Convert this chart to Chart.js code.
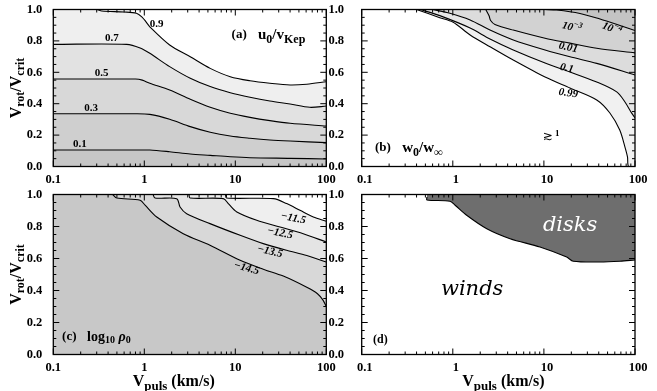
<!DOCTYPE html>
<html>
<head>
<meta charset="utf-8">
<script src="https://cdn.jsdelivr.net/npm/chart.js@4.4.1/dist/chart.umd.min.js"></script>
<style>
  html, body { margin: 0; padding: 0; background: #fff; }
  #wrap { position: relative; width: 657px; height: 391px; }
  #wrap canvas { position: absolute; left: 0; top: 0; }
</style>
</head>
<body>
<div id="wrap">
  <canvas id="pa" width="657" height="391"></canvas>
  <canvas id="pb" width="657" height="391"></canvas>
  <canvas id="pc" width="657" height="391"></canvas>
  <canvas id="pd" width="657" height="391"></canvas>
</div>
<script>
// axis ticks
const xTicks = [0.1, 1, 10, 100];
const yTicks = [0, 0.2, 0.4, 0.6, 0.8, 1.0];

// (a) u0/vKep contours  [vpuls, vrot/vcrit]
const a01 = [[0.1,0.105],[0.8,0.105],[1.15,0.105],[1.9,0.094],[3.2,0.080],[5.3,0.071],[8.8,0.062],[14.5,0.056],[40,0.052],[100,0.048]];
const a03 = [[0.1,0.336],[0.8,0.336],[1.15,0.332],[1.9,0.301],[3.2,0.254],[5.3,0.218],[8.8,0.194],[14.5,0.180],[24,0.169],[40,0.162],[100,0.152]];
const a05 = [[0.1,0.557],[0.8,0.557],[0.95,0.55],[1.15,0.530],[1.9,0.487],[3.2,0.428],[5.3,0.377],[8.8,0.339],[14.5,0.313],[24,0.292],[40,0.275],[100,0.258]];
const a07 = [[0.1,0.778],[0.64,0.778],[0.9,0.755],[1.15,0.721],[1.9,0.636],[3.2,0.562],[5.3,0.509],[8.8,0.470],[14.5,0.441],[24,0.417],[40,0.398],[66,0.377],[100,0.385]];
const a09 = [[0.1,1.0],[0.3,1.0],[0.34,0.99],[0.6,0.984],[0.82,0.976],[0.95,0.95],[1.05,0.92],[1.15,0.89],[1.9,0.774],[3.2,0.699],[5.3,0.625],[8.8,0.572],[14.5,0.546],[24,0.530],[40,0.519],[61,0.524],[100,0.540]];

// (b) w0/winf contours
const b099 = [[0.40,1.0],[0.72,0.948],[1.0,0.92],[1.55,0.838],[2.56,0.763],[4.61,0.678],[10.3,0.570],[19.3,0.500],[38,0.424],[53,0.341],[68,0.232],[77.6,0.124],[82.7,0.061],[85,0.0],[100,0.0]];
const b01 = [[0.44,1.0],[0.72,0.961],[1.55,0.882],[2.56,0.812],[4.61,0.742],[10.3,0.659],[19.3,0.602],[38,0.538],[63,0.475],[77.6,0.411],[92,0.34],[100,0.31]];
const b001 = [[0.6,1.0],[0.93,0.976],[1.55,0.933],[2.56,0.869],[4.61,0.806],[10.3,0.742],[19.3,0.699],[38,0.657],[100,0.583]];
const b1e3 = [[2.3,1.0],[2.5,0.96],[2.6,0.93],[2.9,0.905],[4.6,0.869],[10.3,0.817],[19.3,0.786],[38,0.753],[100,0.724]];
const b1e4 = [[10.3,1.0],[13.8,0.997],[24.9,0.975],[41.3,0.939],[68.4,0.898],[100,0.866]];

// (c) log10 rho0 contours
const c145 = [[0.45,1.0],[0.5,0.978],[0.9,0.964],[1.02,0.933],[1.37,0.859],[2.68,0.755],[5.27,0.683],[11.3,0.589],[20.3,0.533],[33.7,0.49],[61,0.42],[80,0.38],[92,0.34],[100,0.30]];
const c135 = [[1.25,1.0],[1.31,0.978],[2.27,0.974],[2.47,0.922],[2.92,0.880],[5.27,0.818],[11.3,0.745],[20.3,0.693],[36.7,0.651],[61,0.619],[100,0.578]];
const c125 = [[3.1,1.0],[3.18,0.978],[7.38,0.974],[8.38,0.943],[10.4,0.891],[17.2,0.839],[31,0.797],[55.8,0.755],[100,0.703]];
const c115 = [[7.8,1.0],[8.0,0.978],[26.2,0.974],[36.7,0.943],[51.4,0.901],[72,0.859],[100,0.833]];

// (d) disk / wind boundary
const dDisk = [[0.52,0.985],[0.52,0.966],[0.93,0.958],[1.06,0.933],[1.42,0.87],[2.36,0.786],[4.25,0.724],[9.06,0.672],[17.8,0.609],[21,0.583],[41.3,0.578],[68.4,0.583],[100,0.591]];

const FONT = 'Liberation Serif';

function drawRich(ctx, x, y, parts, align, rot, color) {
    ctx.save();
    ctx.translate(x, y);
    if (rot) ctx.rotate(rot * Math.PI / 180);
    ctx.fillStyle = color || '#000';
    ctx.textBaseline = 'middle';
    const fonts = parts.map(p => (p[3] || 'bold') + ' ' + p[1] + 'px ' + (p[4] || FONT));
    let w = 0;
    parts.forEach((p, i) => { ctx.font = fonts[i]; w += ctx.measureText(p[0]).width; });
    let cx = align === 'center' ? -w / 2 : 0;
    parts.forEach((p, i) => {
        ctx.font = fonts[i];
        ctx.fillText(p[0], cx, p[2] || 0);
        cx += ctx.measureText(p[0]).width;
    });
    ctx.restore();
}

// background of plot area, labels, x tick labels and inward ticks
const panelPlugin = {
    id: 'panel',
    beforeDatasetsDraw(chart, args, opts) {
        const a = chart.chartArea;
        chart.ctx.save();
        chart.ctx.fillStyle = opts.base;
        chart.ctx.fillRect(a.left, a.top, a.width, a.height);
        chart.ctx.restore();
    },
    afterDatasetsDraw(chart, args, opts) {
        const ctx = chart.ctx, a = chart.chartArea;
        const sx = chart.scales.x, sy = chart.scales.y;
        (opts.notes || []).forEach(n => {
            drawRich(ctx, sx.getPixelForValue(n.x), sy.getPixelForValue(n.y), n.parts, n.align || 'center', n.rot, n.color);
        });
        if (opts.yTitle) drawRich(ctx, a.left - 36.5, (a.top + a.bottom) / 2, opts.yTitle, 'center', -90);
        if (opts.xTitle) drawRich(ctx, (a.left + a.right) / 2 + opts.xTitleShift, a.bottom + 27.5, opts.xTitle, 'center', 0);

        // x tick labels
        xTicks.forEach(v => {
            drawRich(ctx, sx.getPixelForValue(v) + (opts.xLabShift || 0), a.bottom + 13, [[String(v), 12.5]], 'center', 0);
        });

        ctx.save();
        ctx.strokeStyle = '#000';
        ctx.lineWidth = 1;
        ctx.beginPath();
        const minorX = [];
        [0.1, 1, 10].forEach(d => { for (let k = 2; k <= 9; k++) minorX.push(d * k); });
        const tickX = (v, len) => {
            const p = sx.getPixelForValue(v);
            ctx.moveTo(p, a.bottom); ctx.lineTo(p, a.bottom - len);
            ctx.moveTo(p, a.top); ctx.lineTo(p, a.top + len);
        };
        const tickY = (v, len) => {
            const p = sy.getPixelForValue(v);
            ctx.moveTo(a.left, p); ctx.lineTo(a.left + len, p);
            ctx.moveTo(a.right, p); ctx.lineTo(a.right - len, p);
        };
        xTicks.forEach(v => tickX(v, 6));
        minorX.forEach(v => tickX(v, 3));
        for (let k = 0; k <= 20; k++) tickY(k * 0.05, k % 4 === 0 ? 6 : 3);
        ctx.stroke();
        ctx.lineWidth = 1.3;
        ctx.strokeRect(a.left, a.top, a.width, a.height);
        ctx.restore();
    }
};

function contour(pts, color, order) {
    return {
        data: pts.map(p => ({ x: p[0], y: p[1] })),
        borderColor: '#000',
        borderWidth: 1.1,
        pointRadius: 0,
        tension: 0.3,
        fill: 'end',
        backgroundColor: color,
        order: order
    };
}

function makePanel(id, area, yPad, sets, panelOpts) {
    const yW = 40, xH = 20;
    const tickFont = { family: FONT, weight: 'bold', size: 12.5 };
    return new Chart(document.getElementById(id), {
        type: 'line',
        data: { datasets: sets.map((s, i) => contour(s[0], s[1], sets.length - i)) },
        options: {
            responsive: false,
            animation: false,
            devicePixelRatio: 1,
            events: [],
            layout: { padding: { left: area.left - yW, right: 657 - area.right, top: area.top, bottom: 391 - area.bottom - xH } },
            plugins: { legend: { display: false }, tooltip: { enabled: false }, panel: panelOpts },
            scales: {
                x: {
                    type: 'logarithmic', min: 0.1, max: 100,
                    grid: { display: false }, border: { display: false },
                    ticks: { display: false },
                    afterBuildTicks: s => { s.ticks = xTicks.map(v => ({ value: v })); },
                    afterFit: s => { s.height = xH; s.paddingLeft = 0; s.paddingRight = 0; }
                },
                y: {
                    type: 'linear', min: 0, max: 1,
                    grid: { display: false }, border: { display: false },
                    ticks: { font: tickFont, color: '#000', padding: yPad, callback: v => v.toFixed(1) },
                    afterBuildTicks: s => { s.ticks = yTicks.map(v => ({ value: v })); },
                    afterFit: s => { s.width = yW; s.paddingTop = 0; s.paddingBottom = 0; }
                }
            }
        },
        plugins: [panelPlugin]
    });
}

const yTitle = [['V', 16, 0], ['rot', 12, 4], ['/V', 16, 0], ['crit', 12, 4]];
const xTitle = [['V', 16, 0], ['puls', 13, 5], [' (km/s)', 16, 0]];

const topA = { left: 53.3, right: 326.3, top: 9.5, bottom: 166.5 };
const topB = { left: 361.7, right: 635, top: 9.5, bottom: 166.5 };
const botC = { left: 53.3, right: 326.3, top: 194.5, bottom: 354.5 };
const botD = { left: 361.7, right: 635, top: 194.5, bottom: 354.5 };

makePanel('pa', topA, 3, [
    [a01, '#cfcfcf'], [a03, '#d8d8d8'], [a05, '#e2e2e2'], [a07, '#efefef'], [a09, '#ffffff']
], {
    base: '#c6c6c6', yTitle: yTitle,
    notes: [
        { x: 1.37, y: 0.906, parts: [['0.9', 11]] },
        { x: 0.44, y: 0.817, parts: [['0.7', 11]] },
        { x: 0.34, y: 0.594, parts: [['0.5', 11]] },
        { x: 0.26, y: 0.371, parts: [['0.3', 11]] },
        { x: 0.196, y: 0.143, parts: [['0.1', 11]] },
        { x: 9.1, y: 0.838, align: 'left', parts: [['(a)', 13], ['   u', 15], ['0', 12, 5], ['/v', 15], ['Kep', 12, 5]] }
    ]
});

makePanel('pb', topB, 9.7, [
    [b099, '#f1f1f1'], [b01, '#e6e6e6'], [b001, '#dcdcdc'], [b1e3, '#d2d2d2'], [b1e4, '#c4c4c4']
], {
    base: '#ffffff', xLabShift: 3,
    notes: [
        { x: 20.2, y: 0.884, rot: 15, parts: [['10', 11, 0, 'italic bold'], ['\u22123', 8, -4, 'italic bold']] },
        { x: 55.5, y: 0.876, rot: 22, parts: [['10', 11, 0, 'italic bold'], ['\u22124', 8, -4, 'italic bold']] },
        { x: 18.5, y: 0.757, rot: 12, parts: [['0.01', 11, 0, 'italic bold']] },
        { x: 17.8, y: 0.625, rot: 12, parts: [['0.1', 11, 0, 'italic bold']] },
        { x: 18.5, y: 0.466, rot: 8, parts: [['0.99', 11, 0, 'italic bold']] },
        { x: 12.0, y: 0.20, parts: [['\u2273', 12, 2, 'normal', 'DejaVu Sans'], [' 1', 9, -1]] },
        { x: 0.14, y: 0.118, align: 'left', parts: [['(b)', 13], ['   w', 15], ['0', 12, 5], ['/w', 15], ['\u221e', 12, 5]] }
    ]
});

makePanel('pc', botC, 3, [
    [c145, '#d8d8d8'], [c135, '#e4e4e4'], [c125, '#efefef'], [c115, '#ffffff']
], {
    base: '#c8c8c8', yTitle: yTitle, xTitle: xTitle, xTitleShift: -16,
    notes: [
        { x: 43.4, y: 0.851, rot: 12, parts: [['\u221211.5', 11, 0, 'italic bold']] },
        { x: 31, y: 0.758, rot: 12, parts: [['\u221212.5', 11, 0, 'italic bold']] },
        { x: 24, y: 0.643, rot: 13, parts: [['\u221213.5', 11, 0, 'italic bold']] },
        { x: 13.3, y: 0.539, rot: 15, parts: [['\u221214.5', 11, 0, 'italic bold']] },
        { x: 0.125, y: 0.109, align: 'left', parts: [['(c)', 13], ['   log', 14], ['10', 10, 3], [' \u03c1', 14, 0, 'italic bold'], ['0', 10, 3]] }
    ]
});

makePanel('pd', botD, 9.7, [
    [dDisk, '#6e6e6e']
], {
    base: '#ffffff', xTitle: xTitle, xTitleShift: 5, xLabShift: 3,
    notes: [
        { x: 19.4, y: 0.809, color: '#ffffff', parts: [['disks', 21, 0, 'italic', 'DejaVu Serif']] },
        { x: 1.63, y: 0.403, parts: [['winds', 21, 0, 'italic', 'DejaVu Serif']] },
        { x: 0.133, y: 0.091, align: 'left', parts: [['(d)', 12]] }
    ]
});
</script>
</body>
</html>
